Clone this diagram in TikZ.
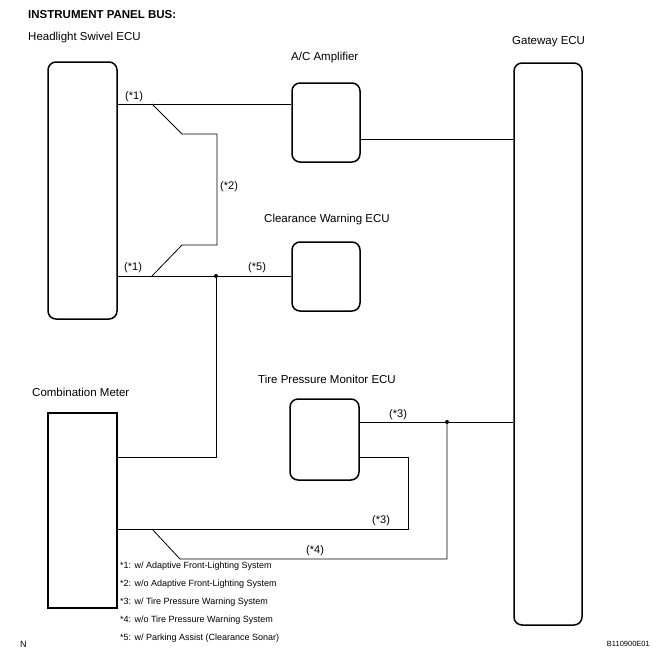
\documentclass[tikz,border=0pt]{standalone}
\usepackage{fontspec}
\setmainfont{Liberation Sans}
\usetikzlibrary{positioning}

\tikzset{
	ecu/.style={draw, line width=1.5pt, rounded corners=8pt, inner sep=0pt},
	meter/.style={draw, line width=1.3pt, inner sep=0pt},
	bus/.style={line width=0.8pt},
	optlabel/.style={anchor=west, inner sep=0pt, font=\fontsize{11}{13}\selectfont},
	unitname/.style={anchor=west, inner sep=0pt, font=\fontsize{11.5}{14}\selectfont},
	legendline/.style={anchor=west, inner sep=0pt, font=\fontsize{9}{11}\selectfont},
	joint/.style={circle, fill, inner sep=0pt, minimum size=4pt}
}

\begin{document}
\begin{tikzpicture}[x=1pt, y=-1pt]
	\useasboundingbox (0,0) rectangle (658,657);

	% ECUs
	\node [ecu, minimum width=69pt, minimum height=257pt] (hl) at (82.5,190.5) {};
	\node [ecu, minimum width=68pt, minimum height=79pt] (ac) at (326,122.5) {};
	\node [ecu, minimum width=68pt, minimum height=69pt] (cw) at (326,276.5) {};
	\node [ecu, minimum width=69pt, minimum height=81pt] (tp) at (324.5,439.5) {};
	\node [ecu, minimum width=68pt, minimum height=562pt] (gw) at (548,344) {};
	\node [meter, minimum width=69pt, minimum height=195pt] (cm) at (82.5,510.5) {};

	% names
	\node [anchor=west, inner sep=0pt, font=\bfseries\fontsize{11.5}{14}\selectfont] (title) at (28,15) {INSTRUMENT PANEL BUS:};
	\node [unitname] (hlname) at (28,38) {Headlight Swivel ECU};
	\node [unitname] (acname) at (291,58) {A/C Amplifier};
	\node [unitname] (gwname) at (512,42) {Gateway ECU};
	\node [unitname] (cwname) at (264,220) {Clearance Warning ECU};
	\node [unitname] (tpname) at (258,379) {Tire Pressure Monitor ECU};
	\node [unitname] (cmname) at (32,392) {Combination Meter};

	% junctions
	\node [joint] (j1) at (216,276) {};
	\node [joint] (j2) at (447,422) {};

	% bus lines
	\draw [bus] (hl.east |- 0,104) -- (ac.west |- 0,104);
	\draw [bus] (ac.east |- 0,139) -- (gw.west |- 0,139);
	\draw [bus] (152,104) -- (182,134) -- (217,134) -- (217,245)
		-- (182,245) -- (152,276);
	\draw [bus] (hl.east |- j1) -- (j1) -- (cw.west |- j1);
	\draw [bus] (j1) -- (j1 |- 0,457) -- (cm.east |- 0,457);
	\draw [bus] (tp.east |- j2) -- (j2) -- (gw.west |- j2);
	\draw [bus] (tp.east |- 0,457) -- (408,457) -- (408,529)
		-- (cm.east |- 0,529);
	\draw [bus] (152,529) -- (180,559) -- (j2 |- 0,559) -- (j2);

	% option marks
	\node [optlabel] (t1a) at (125,97) {(*1)};
	\node [optlabel] (t1b) at (124,268) {(*1)};
	\node [optlabel] (t2) at (220,187) {(*2)};
	\node [optlabel] (t5) at (248,268) {(*5)};
	\node [optlabel] (t3a) at (389,415) {(*3)};
	\node [optlabel] (t3b) at (372,521) {(*3)};
	\node [optlabel] (t4) at (306,551) {(*4)};

	% legend
	\foreach \y/\txt in {566/{*1: w/ Adaptive Front-Lighting System},
		584/{*2: w/o Adaptive Front-Lighting System},
		602/{*3: w/ Tire Pressure Warning System},
		620/{*4: w/o Tire Pressure Warning System},
		638/{*5: w/ Parking Assist (Clearance Sonar)}}
		\node [legendline] at (120,\y) {\txt};

	\node [legendline] (n) at (20,644) {N};
	\node [legendline, anchor=east, font=\fontsize{7.5}{9}\selectfont] (code) at (650,644) {B110900E01};
\end{tikzpicture}
\end{document}
